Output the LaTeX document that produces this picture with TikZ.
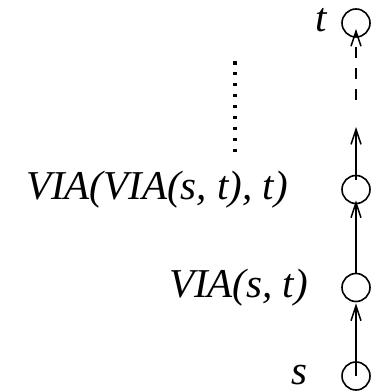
\documentclass[tikz,border=0pt]{standalone}
\usepackage{fontspec}
\setmainfont{Liberation Serif}
\usetikzlibrary{arrows.meta}
\begin{document}
\begin{tikzpicture}[x=1pt,y=1pt,
  vtx/.style={draw, circle, minimum size=28pt, inner sep=0pt, line width=1.6pt},
  lbl/.style={inner sep=0pt, outer sep=0pt, anchor=base east, font=\fontsize{41}{41}\selectfont\itshape},
  arr/.style={line width=1.5pt, -{Straight Barb[length=15pt,width=10pt,line width=1.5pt]}},
  darr/.style={arr, dash pattern=on 11pt off 10pt},
  dotline/.style={line width=3.2pt, dash pattern=on 3.2pt off 7.7pt}]
\useasboundingbox (0,0) rectangle (378,391);
% vertices
\node[vtx] (t) at (356,368) {};
\node[vtx] (c2) at (356,201.5) {};
\node[vtx] (c1) at (356,103.5) {};
\node[vtx] (s) at (356,15) {};
% labels
\node[lbl] (lt) at (327,359) {t};
\node[lbl] (lv2) at (288,191) {VIA(VIA(s, t), t)};
\node[lbl] (lv1) at (308,93) {VIA(s, t)};
\node[lbl] (ls) at (307,6.5) {s};
% helper coordinates
\coordinate (mtip) at (356,264);
\coordinate (dstart) at (356,291);
\coordinate (dtop) at (235,329.6);
\coordinate (dbot) at (235,239.4);
% connectors
\draw[arr] (s.center) -- ([yshift=-1pt]c1.south);
\draw[arr] (c1.north) -- ([yshift=4pt]c2.south);
\draw[arr] ([yshift=-5pt]c2.north) -- (mtip);
\draw[darr] (dstart) -- ([yshift=9pt]t.south);
\draw[dotline] (dtop) -- (dbot);
\end{tikzpicture}
\end{document}
